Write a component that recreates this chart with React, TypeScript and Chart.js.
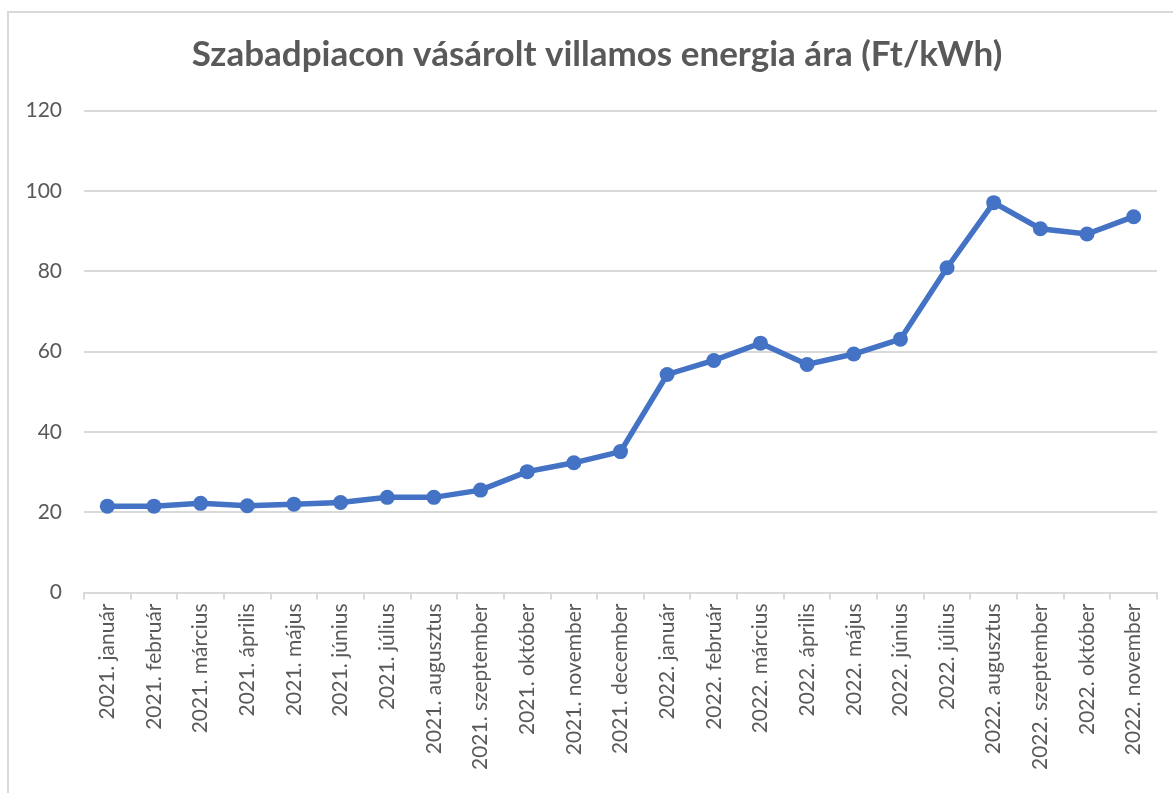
import React, { useEffect, useRef } from "react";
import { Chart, registerables } from "chart.js";

Chart.register(...registerables);

const TITLE = "Szabadpiacon vásárolt villamos energia ára (Ft/kWh)";

const categories: string[] = [
  "2021. január",
  "2021. február",
  "2021. március",
  "2021. április",
  "2021. május",
  "2021. június",
  "2021. július",
  "2021. augusztus",
  "2021. szeptember",
  "2021. október",
  "2021. november",
  "2021. december",
  "2022. január",
  "2022. február",
  "2022. március",
  "2022. április",
  "2022. május",
  "2022. június",
  "2022. július",
  "2022. augusztus",
  "2022. szeptember",
  "2022. október",
  "2022. november",
];

const prices: number[] = [
  21.5, 21.5, 22.2, 21.6, 22.0, 22.4, 23.7, 23.7, 25.5, 30.1, 32.3, 35.1,
  54.3, 57.8, 62.1, 56.8, 59.4, 63.1, 80.9, 97.1, 90.6, 89.3, 93.6,
];

const yTicks = { min: 0, max: 120, step: 20 };

const FONT = "Lato, 'Open Sans', sans-serif";
const TEXT = "#595959";
const GRID = "#d9d9d9";
const LINE = "#4472C4";

const titlePlugin = {
  id: "centeredTitle",
  afterDraw(chart: any) {
    const ctx = chart.ctx;
    ctx.save();
    ctx.font = `bold 35px ${FONT}`;
    ctx.fillStyle = TEXT;
    ctx.textAlign = "center";
    ctx.textBaseline = "alphabetic";
    ctx.fillText(TITLE, chart.width / 2, 53);
    ctx.restore();
  },
};

export default function App() {
  const ref = useRef<HTMLCanvasElement | null>(null);

  useEffect(() => {
    document.body.style.overflow = "hidden";
    const canvas = ref.current;
    if (!canvas) return;
    const chart = new Chart(canvas, {
      type: "line",
      data: {
        labels: categories,
        datasets: [
          {
            data: prices,
            borderColor: LINE,
            backgroundColor: LINE,
            borderWidth: 5.5,
            pointRadius: 7.5,
            pointHoverRadius: 7.5,
            pointBorderWidth: 0,
            pointBackgroundColor: LINE,
            tension: 0,
          },
        ],
      },
      plugins: [titlePlugin],
      options: {
        animation: false,
        responsive: false,
        maintainAspectRatio: false,
        layout: { padding: { left: 0, right: 28, top: 97.7, bottom: 0 } },
        plugins: {
          legend: { display: false },
          tooltip: { enabled: false },
          title: { display: false },
        },
        scales: {
          x: {
            type: "category",
            offset: true,
            border: { display: true, color: GRID, width: 2 },
            grid: {
              offset: true,
              display: true,
              drawOnChartArea: false,
              drawTicks: true,
              tickLength: 7,
              color: GRID,
              lineWidth: 2,
            },
            ticks: {
              color: TEXT,
              font: { family: FONT, size: 21 },
              minRotation: 90,
              maxRotation: 90,
              autoSkip: false,
              padding: 4,
            },
            afterFit: (scale: any) => {
              scale.height = 200.5;
            },
          },
          y: {
            type: "linear",
            min: yTicks.min,
            max: yTicks.max,
            border: { display: false },
            grid: {
              color: GRID,
              lineWidth: 2,
              drawTicks: false,
            },
            ticks: {
              stepSize: yTicks.step,
              color: TEXT,
              font: { family: FONT, size: 21 },
              padding: 22,
            },
            afterFit: (scale: any) => {
              scale.width = 75;
            },
          },
        },
      },
    });
    return () => chart.destroy();
  }, []);

  return (
    <div
      style={{
        position: "absolute",
        left: 7,
        top: 11,
        width: 1250,
        height: 820,
        borderLeft: `2px solid ${GRID}`,
        borderTop: `2px solid ${GRID}`,
        background: "#fff",
        overflow: "hidden",
      }}
    >
      <canvas
        ref={ref}
        width={1176}
        height={780}
        style={{ position: "absolute", left: 0, top: 0, width: 1176, height: 780 }}
      />
    </div>
  );
}
